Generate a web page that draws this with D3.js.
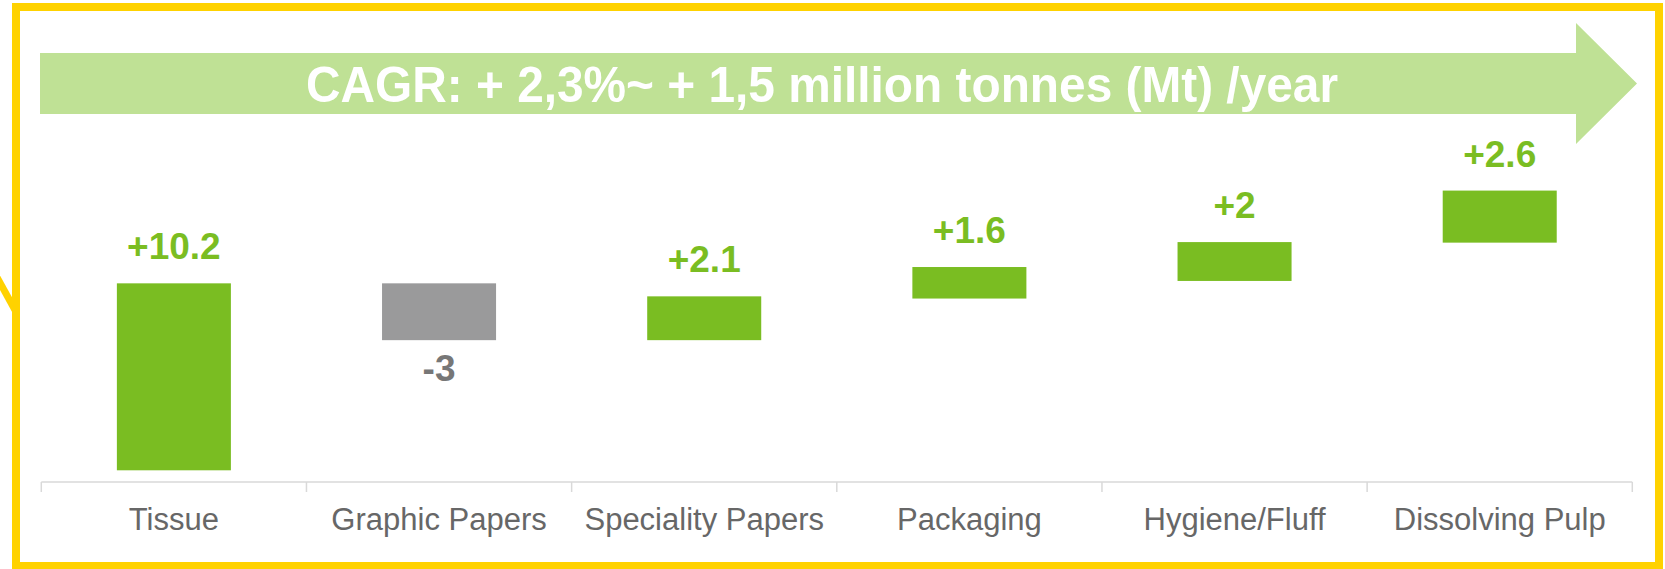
<!DOCTYPE html>
<html>
<head>
<meta charset="utf-8">
<script src="https://cdn.jsdelivr.net/npm/d3@7"></script>
<style>
  html, body { margin: 0; padding: 0; background: #ffffff; }
  svg { display: block; }
</style>
</head>
<body>
<svg id="chart" width="1665" height="569"></svg>
<script>
// ---- data ----
const categories = ["Tissue", "Graphic Papers", "Speciality Papers", "Packaging", "Hygiene/Fluff", "Dissolving Pulp"];
const deltas = [10.2, -3, 2.1, 1.6, 2, 2.6];
const valueLabels = ["+10.2", "-3", "+2.1", "+1.6", "+2", "+2.6"];
// floating bar extents (Mt) as drawn
const barLow  = [0,    7.1,  7.1, 9.37, 10.33, 12.42];
const barHigh = [10.2, 10.2, 9.49, 11.09, 12.45, 15.26];
const titleText = "CAGR: + 2,3%~ + 1,5 million tonnes (Mt) /year";

// ---- styles ----
const GREEN = "#7abd22";
const LIGHT_GREEN = "#bfe195";
const GREY_BAR = "#9a9a9b";
const GREY_LABEL = "#777777";
const AXIS_GREY = "#d9d9d9";
const YELLOW = "#ffd200";
const FONT = "'Liberation Sans', Arial, Helvetica, sans-serif";

const svg = d3.select("#chart");

// yellow frame + connector stub
svg.append("line")
  .attr("x1", -6).attr("y1", 272).attr("x2", 15).attr("y2", 310)
  .attr("stroke", YELLOW).attr("stroke-width", 7);
svg.append("rect")
  .attr("x", 16).attr("y", 7).attr("width", 1643).attr("height", 559)
  .attr("fill", "none").attr("stroke", YELLOW).attr("stroke-width", 8);

// CAGR arrow
const arrow = d3.path();
arrow.moveTo(40, 53);
arrow.lineTo(1576, 53);
arrow.lineTo(1576, 23);
arrow.lineTo(1637, 83.5);
arrow.lineTo(1576, 144);
arrow.lineTo(1576, 114);
arrow.lineTo(40, 114);
arrow.closePath();
svg.append("path").attr("d", arrow.toString()).attr("fill", LIGHT_GREEN);

svg.append("text")
  .attr("x", 306).attr("y", 101.5)
  .attr("font-family", FONT).attr("font-weight", "bold").attr("font-size", 50)
  .attr("fill", "#ffffff")
  .attr("textLength", 1032).attr("lengthAdjust", "spacingAndGlyphs")
  .text(titleText);

// ---- scales ----
const axisLeft = 41.3, axisRight = 1632.3, axisY = 482;
const x = d3.scaleBand()
  .domain(categories)
  .range([axisLeft, axisRight])
  .paddingInner(0.57)
  .paddingOuter(0.285);

const y = d3.scaleLinear()
  .domain([0, 16])
  .range([470.3, 470.3 - 16 * 18.33]);

// ---- bars ----
const rows = categories.map((c, i) => ({
  c, d: deltas[i], lo: barLow[i], hi: barHigh[i], label: valueLabels[i]
}));

svg.append("g").selectAll("rect")
  .data(rows)
  .join("rect")
  .attr("x", d => x(d.c))
  .attr("width", x.bandwidth())
  .attr("y", d => y(d.hi))
  .attr("height", d => y(d.lo) - y(d.hi))
  .attr("fill", d => d.d < 0 ? GREY_BAR : GREEN);

// value labels
svg.append("g").selectAll("text")
  .data(rows)
  .join("text")
  .attr("x", d => x(d.c) + x.bandwidth() / 2)
  .attr("y", d => d.d < 0 ? y(d.lo) + 41 : y(d.hi) - 24)
  .attr("text-anchor", "middle")
  .attr("font-family", FONT).attr("font-weight", "bold").attr("font-size", 37)
  .attr("fill", d => d.d < 0 ? GREY_LABEL : GREEN)
  .text(d => d.label);

// ---- category axis ----
const axisG = svg.append("g").attr("transform", `translate(0,${axisY})`);
axisG.call(d3.axisBottom(x).tickSize(0).tickPadding(26))
  .call(g => g.select(".domain").remove());
axisG.selectAll(".tick text")
  .attr("font-family", FONT).attr("font-size", 31).attr("fill", "#676767");

axisG.append("line")
  .attr("x1", axisLeft).attr("x2", axisRight)
  .attr("stroke", AXIS_GREY).attr("stroke-width", 1.5);

const step = x.step();
const boundaries = d3.range(categories.length + 1).map(i => axisLeft + i * step);
axisG.selectAll(".bound")
  .data(boundaries)
  .join("line")
  .attr("class", "bound")
  .attr("x1", d => d).attr("x2", d => d)
  .attr("y1", 0).attr("y2", 10)
  .attr("stroke", AXIS_GREY).attr("stroke-width", 1.5);
</script>
</body>
</html>
